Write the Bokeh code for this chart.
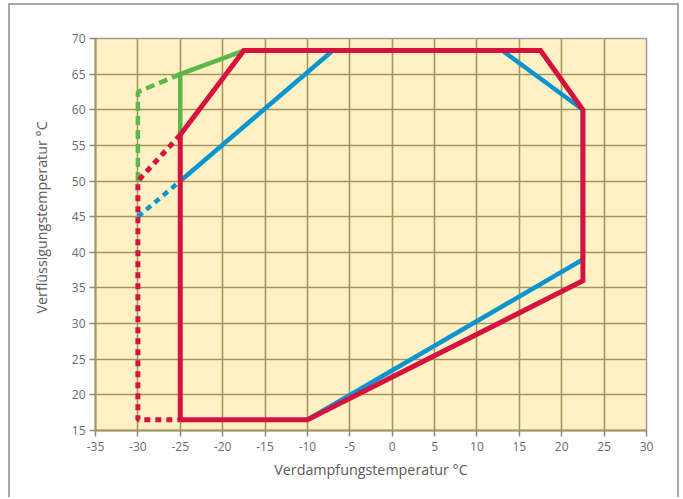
from bokeh.plotting import figure
from bokeh.models import FixedTicker, Range1d, Title
from bokeh.embed import file_html
from bokeh.resources import INLINE

# --- data ---
x_ticks = list(range(-35, 31, 5))
y_ticks = list(range(15, 71, 5))

blue_x = [-25, -7, 13, 22.5, 22.5, -10]
blue_y = [50, 68.3, 68.3, 60, 39, 16.5]
blue_dot_x = [-30, -25]
blue_dot_y = [45, 50]

green_x = [-25, -25, -17.5]
green_y = [56.5, 65, 68.3]
green_dash_x = [-30, -30, -25]
green_dash_y = [50, 62.5, 65]

red_x = [-25, -10, 22.5, 22.5, 17.5, -17.5, -25, -25]
red_y = [16.5, 16.5, 36, 60, 68.3, 68.3, 56.5, 16.5]
red_dot_x = [-25, -30, -30, -25]
red_dot_y = [56.5, 50, 16.5, 16.5]

x_title = "Verdampfungstemperatur °C"
y_title = "Verflüssigungstemperatur °C"

RED = "#d6123f"
BLUE = "#0a94d0"
GREEN = "#5cb848"
GRID = "#a39560"
FONT = "Open Sans"

p = figure(width=671, height=494, output_backend="svg", toolbar_location=None,
           x_range=Range1d(-35, 30), y_range=Range1d(15, 70),
           min_border_left=85, min_border_right=35, min_border_top=33,
           min_border_bottom=69,
           background_fill_color="#fff1c4", border_fill_color="white",
           outline_line_color="#9a9a9a", outline_line_width=1.5,
           styles={"border-left": "2px solid #a8a8a8", "border-right": "2px solid #a8a8a8",
                   "border-top": "2px solid #a8a8a8", "margin-left": "8px",
                   "margin-top": "3px"})

for ax, ticks in ((p.xaxis, x_ticks), (p.yaxis, y_ticks)):
    ax.ticker = FixedTicker(ticks=ticks)
    ax.major_label_overrides = {t: str(t) for t in ticks}
    ax.axis_line_color = GRID
    ax.axis_line_width = 2
    ax.major_tick_line_color = "#8a8a8a"
    ax.major_tick_line_width = 1.5
    ax.major_tick_out = 6
    ax.major_tick_in = 0
    ax.minor_tick_line_color = None
    ax.major_label_text_font = FONT
    ax.major_label_text_font_size = "12px"
    ax.major_label_text_color = "#6a6a6a"

p.xaxis.major_label_standoff = 5
p.yaxis.major_label_standoff = 4

xt = Title(text=x_title, align="center", offset=-13, standoff=8,
           text_font=FONT, text_font_size="14.3px", text_font_style="normal",
           text_color="#5a5a5a")
yt = Title(text=y_title, align="left", offset=117, standoff=35,
           text_font=FONT, text_font_size="14.3px", text_font_style="normal",
           text_color="#5a5a5a")
p.add_layout(xt, "below")
p.add_layout(yt, "left")

p.xgrid.ticker = FixedTicker(ticks=x_ticks)
p.ygrid.ticker = FixedTicker(ticks=y_ticks)
for g in (p.xgrid, p.ygrid):
    g.grid_line_color = GRID
    g.grid_line_width = 1.6

p.line(blue_dot_x, blue_dot_y, line_color=BLUE, line_width=4.5, line_dash="6 5")
p.line(blue_x, blue_y, line_color=BLUE, line_width=4.5, line_join="miter")
p.line(green_dash_x, green_dash_y, line_color=GREEN, line_width=4.5, line_dash="9 5")
p.line(green_x, green_y, line_color=GREEN, line_width=4.5, line_join="miter")
p.line(red_dot_x, red_dot_y, line_color=RED, line_width=5, line_dash="6 5")
p.line(red_x, red_y, line_color=RED, line_width=5, line_join="miter")

open("out.html", "w").write(file_html(p, INLINE))
